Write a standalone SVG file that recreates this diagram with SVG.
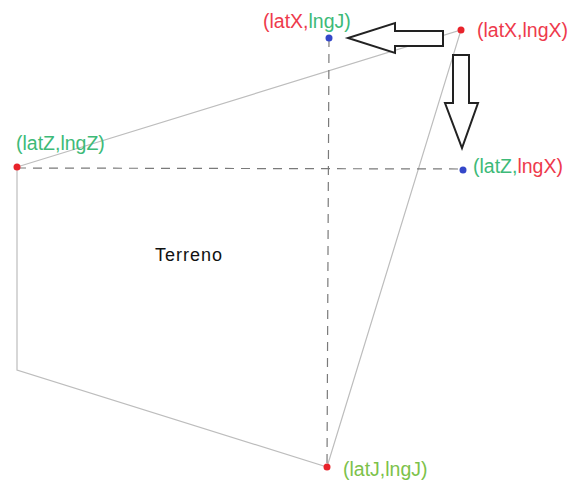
<svg xmlns="http://www.w3.org/2000/svg" width="570" height="481" viewBox="0 0 570 481">
  <style>
    .edge { fill: none; stroke: #bdbdbd; stroke-width: 1.2; }
    .dash { fill: none; stroke: #7a7a7a; stroke-width: 1.2; stroke-dasharray: 9 7; }
    .arrow { fill: #ffffff; stroke: #222222; stroke-width: 2; stroke-linejoin: miter; }
    .lbl { font-family: "Liberation Sans", Arial, sans-serif; font-size: 19.5px; }
    .r { fill: #ee3a4c; }
    .g { fill: #3dba78; }
    .y { fill: #7cc24a; }
    .ptR { fill: #e8232b; }
    .ptB { fill: #3447c9; }
    .title { font-family: "Liberation Sans", Arial, sans-serif; font-size: 18px; letter-spacing: 1px; fill: #111111; }
  </style>
  <rect width="570" height="481" fill="#ffffff"/>

  <g id="connectors">
    <polyline class="edge" points="17,167 461,30 327,467 17,370 17,167"/>
    <line class="dash" x1="17" y1="168" x2="463" y2="169"/>
    <line class="dash" x1="329" y1="38" x2="327" y2="467"/>
    <polygon class="arrow" points="443,31 395,31 395,23 348,38 395,53 395,46 443,46"/>
    <polygon class="arrow" points="453,55 469,55 469,103 478,103 462,148 445,103 453,103"/>
  </g>

  <g id="terreno">
    <text class="title" x="155" y="261">Terreno</text>
  </g>

  <g id="node-latX-lngX">
    <circle class="ptR" cx="461" cy="30" r="3.5"/>
    <text class="lbl" x="477" y="37"><tspan class="r">(latX,lngX)</tspan></text>
  </g>

  <g id="node-latX-lngJ">
    <circle class="ptB" cx="329" cy="38" r="3.5"/>
    <text class="lbl" x="263" y="28"><tspan class="r">(latX,</tspan><tspan class="g">lngJ)</tspan></text>
  </g>

  <g id="node-latZ-lngZ">
    <circle class="ptR" cx="17" cy="167" r="3.5"/>
    <text class="lbl" x="16" y="150"><tspan class="g">(latZ,lngZ)</tspan></text>
  </g>

  <g id="node-latZ-lngX">
    <circle class="ptB" cx="463" cy="170" r="3.5"/>
    <text class="lbl" x="473" y="173"><tspan class="g">(latZ,</tspan><tspan class="r">lngX)</tspan></text>
  </g>

  <g id="node-latJ-lngJ">
    <circle class="ptR" cx="327" cy="467" r="3.5"/>
    <text class="lbl" x="343" y="476"><tspan class="y">(latJ,lngJ)</tspan></text>
  </g>
</svg>
